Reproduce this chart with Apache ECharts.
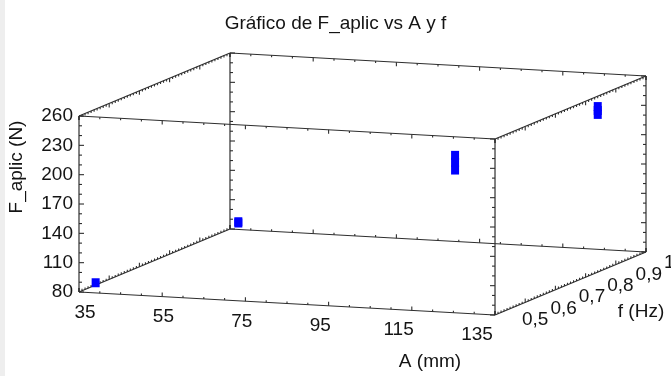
<!DOCTYPE html>
<html>
<head>
<meta charset="utf-8">
<script src="https://cdn.jsdelivr.net/npm/echarts@6/dist/echarts.min.js"></script>
<style>
  html, body { margin: 0; padding: 0; background: #fff; }
  #chart { width: 671px; height: 376px; }
</style>
</head>
<body>
<div id="chart"></div>
<script>
// Axis ranges of the 3D box
const aRange = [35, 135];        // A (mm)
const forceRange = [80, 260];    // F_aplic (N)
const freqRange = [0.5, 1.0];    // f (Hz)

// Tick values shown as labels
const aTicks = [35, 55, 75, 95, 115, 135];
const forceTicks = [80, 110, 140, 170, 200, 230, 260];
const freqTicks = [0.5, 0.6, 0.7, 0.8, 0.9, 1.0];

// Observations
const amplitude = [39, 37, 37, 125.4, 125.4, 125.4, 123.4, 123.4, 123.4];
const frequency = [0.5, 1.0, 1.0, 0.5, 0.5, 0.5, 1.0, 1.0, 1.0];
const force = [90.4, 86.6, 87.9, 241, 234, 226, 226, 222, 218];

const FONT = "'Liberation Sans', Arial, sans-serif";
const INK = '#141414';
const EDGE = '#2e2e2e';

// Oblique projection of (A, F, f) onto the hidden 2D plane [0,1]x[0,1]
const DIR_A = [0.7337, -0.0881];
const DIR_F = [0, 0.6743];
const DIR_Q = [0.2663, 0.2414];
const ORIGIN = [0, 0.0881];
function project(a, F, q) {
  const ta = (a - aRange[0]) / (aRange[1] - aRange[0]);
  const tf = (F - forceRange[0]) / (forceRange[1] - forceRange[0]);
  const tq = (q - freqRange[0]) / (freqRange[1] - freqRange[0]);
  return [
    ORIGIN[0] + ta * DIR_A[0] + tf * DIR_F[0] + tq * DIR_Q[0],
    ORIGIN[1] + ta * DIR_A[1] + tf * DIR_F[1] + tq * DIR_Q[1]
  ];
}

// The 12 edges of the box
const lo = [aRange[0], forceRange[0], freqRange[0]];
const hi = [aRange[1], forceRange[1], freqRange[1]];
const corner = i => [i & 1 ? hi[0] : lo[0], i & 2 ? hi[1] : lo[1], i & 4 ? hi[2] : lo[2]];
const edges = [];
for (let i = 0; i < 8; i++) {
  for (const bit of [1, 2, 4]) {
    if (!(i & bit)) edges.push(corner(i).concat(corner(i | bit)));
  }
}

// Tick marks: [A, F, f, dx, dy], pointing into the faces
const ticks = [];
for (let F = forceRange[0]; F <= forceRange[1]; F += 10) {
  const len = (F - forceRange[0]) % 30 === 0 ? 5 : 3;
  for (const q of freqRange) {
    ticks.push([aRange[0], F, q, len, 0]);
    ticks.push([aRange[1], F, q, -len, 0]);
  }
}
for (let a = aRange[0]; a <= aRange[1]; a += 5) {
  const len = (a - aRange[0]) % 20 === 0 ? 4 : 2;
  for (const q of freqRange) {
    ticks.push([a, forceRange[0], q, 0, -len]);
    ticks.push([a, forceRange[1], q, 0, len]);
  }
}
for (let k = 0; k <= 50; k++) {
  const q = freqRange[0] + k * 0.01;
  const len = k % 10 === 0 ? 4 : 2;
  for (const a of aRange) {
    ticks.push([a, forceRange[0], q, 0, -len]);
    ticks.push([a, forceRange[1], q, 0, len]);
  }
}

const textStyle = (text, align) => ({
  text: text, fill: INK, fontSize: 19, fontFamily: FONT,
  align: align, verticalAlign: 'middle'
});

const chart = echarts.init(document.getElementById('chart'));

chart.setOption({
  animation: false,
  backgroundColor: '#ffffff',
  title: {
    text: 'Gráfico de F_aplic vs A y f',
    left: 'center',
    top: 9,
    textStyle: { fontSize: 19, fontWeight: 'normal', color: INK, fontFamily: FONT }
  },
  grid: { left: 79, right: 25, top: 54, bottom: 61 },
  xAxis: { type: 'value', min: 0, max: 1, show: false },
  yAxis: { type: 'value', min: 0, max: 1, show: false },
  graphic: [
    { type: 'rect', left: 0, top: 0, shape: { width: 5, height: 376 }, style: { fill: '#eeeeee' }, silent: true },
    { type: 'text', x: 17, y: 167, rotation: Math.PI / 2, style: textStyle('F_aplic (N)', 'center') },
    { type: 'text', x: 430, y: 362, style: textStyle('A (mm)', 'center') },
    { type: 'text', x: 641, y: 312, style: textStyle('f (Hz)', 'center') }
  ],
  series: [
    {
      // box frame
      type: 'custom',
      data: edges,
      silent: true,
      renderItem: (params, api) => {
        const p0 = api.coord(project(api.value(0), api.value(1), api.value(2)));
        const p1 = api.coord(project(api.value(3), api.value(4), api.value(5)));
        return {
          type: 'line',
          shape: { x1: p0[0], y1: p0[1], x2: p1[0], y2: p1[1] },
          style: { stroke: EDGE, lineWidth: 1.2 }
        };
      }
    },
    {
      // tick marks on every edge
      type: 'custom',
      data: ticks,
      silent: true,
      renderItem: (params, api) => {
        const p = api.coord(project(api.value(0), api.value(1), api.value(2)));
        return {
          type: 'line',
          shape: { x1: p[0], y1: p[1], x2: p[0] + api.value(3), y2: p[1] + api.value(4) },
          style: { stroke: EDGE, lineWidth: 1.1 }
        };
      }
    },
    {
      // F_aplic tick labels on the front-left edge
      type: 'custom',
      data: forceTicks.map(v => [v]),
      silent: true,
      renderItem: (params, api) => {
        const v = api.value(0);
        const p = api.coord(project(aRange[0], v, freqRange[0]));
        return { type: 'text', x: p[0] - 6, y: p[1], style: textStyle(String(v), 'right') };
      }
    },
    {
      // A tick labels below the front-bottom edge
      type: 'custom',
      data: aTicks.map(v => [v]),
      silent: true,
      renderItem: (params, api) => {
        const v = api.value(0);
        const t = (v - aRange[0]) / (aRange[1] - aRange[0]);
        const p = api.coord(project(v, forceRange[0], freqRange[0]));
        return { type: 'text', x: p[0] + 6 - 24 * t, y: p[1] + 20.5 - t, style: textStyle(String(v), 'center') };
      }
    },
    {
      // f tick labels beside the right-bottom depth edge
      type: 'custom',
      data: freqTicks.map(v => [v]),
      silent: true,
      renderItem: (params, api) => {
        const v = api.value(0);
        const t = (v - freqRange[0]) / (freqRange[1] - freqRange[0]);
        const p = api.coord(project(aRange[1], forceRange[0], v));
        return {
          type: 'text', x: p[0] + 27 - 9 * t, y: p[1] + 5 + 6 * t,
          style: textStyle(String(v).replace('.', ','), 'left')
        };
      }
    },
    {
      // observations
      type: 'scatter',
      symbol: 'rect',
      symbolSize: [8, 9],
      itemStyle: { color: '#0000ff', opacity: 1 },
      z: 5,
      data: amplitude.map((a, i) => project(a, force[i], frequency[i]))
    }
  ]
});
</script>
</body>
</html>
